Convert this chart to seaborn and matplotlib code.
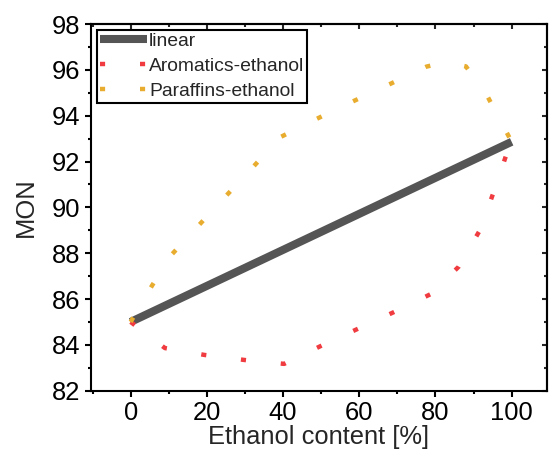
import matplotlib
matplotlib.use("Agg")
import matplotlib.pyplot as plt
from matplotlib.ticker import MultipleLocator
import seaborn as sns
import pandas as pd

# ---- data ----
linear_x = [0, 100]
linear_y = [85.0, 92.86]

arom_x = [0, 9.0, 19.4, 29.9, 40.3, 49.9, 59.5, 69.1, 78.7, 86.1, 91.9, 95.4, 98.8, 100]
arom_y = [85.0, 83.86, 83.56, 83.34, 83.17, 83.95, 84.69, 85.43, 86.21, 87.41, 89.07, 90.73, 92.39, 92.9]

par_x = [0, 5.67, 10.5, 17.74, 24.93, 32.18, 39.37, 48.82, 58.43, 68.06, 77.64, 83.0, 88.0, 93.7, 98.69, 100]
par_y = [85.0, 86.60, 87.89, 89.19, 90.48, 91.77, 93.07, 93.86, 94.63, 95.38, 96.14, 96.35, 96.15, 94.83, 93.27, 92.86]

x_ticks = [0, 20, 40, 60, 80, 100]
y_ticks = [82, 84, 86, 88, 90, 92, 94, 96, 98]

sns.set_style("ticks")
plt.rcParams['font.family'] = ['Liberation Sans', 'DejaVu Sans']

fig = plt.figure(figsize=(5.49, 4.55), dpi=100)
ax = fig.add_axes([91/549, 1-390.7/455, (546.7-91)/549, (390.7-24)/455])

df_lin = pd.DataFrame({'x': linear_x, 'y': linear_y})
df_ar = pd.DataFrame({'x': arom_x, 'y': arom_y})
df_pa = pd.DataFrame({'x': par_x, 'y': par_y})

sns.lineplot(data=df_lin, x='x', y='y', ax=ax, color='#555555', lw=5.8,
             estimator=None, label='linear', solid_capstyle='butt')
sns.lineplot(data=df_ar, x='x', y='y', ax=ax, color='#F03C40', lw=3.2,
             estimator=None, label='Aromatics-ethanol', linestyle=(0, (1.15, 7.85)))
sns.lineplot(data=df_pa, x='x', y='y', ax=ax, color='#E8AC2E', lw=3.2,
             estimator=None, label='Paraffins-ethanol', linestyle=(0, (1.15, 7.85)))

ax.set_xlim(-10.4, 109.2)
ax.set_ylim(82, 98)
ax.set_xticks(x_ticks)
ax.set_yticks(y_ticks)
ax.xaxis.set_minor_locator(MultipleLocator(10))
ax.yaxis.set_minor_locator(MultipleLocator(1))
ax.tick_params(which='major', direction='out', length=4.5, width=1.5, labelsize=18.4, pad=3,
               color='black', labelcolor='black')
ax.tick_params(which='minor', direction='out', length=2.5, width=1.5, color='black')
for s in ax.spines.values():
    s.set_linewidth(1.5)
    s.set_color('black')
    s.set_visible(True)

sec_x = ax.secondary_xaxis('top')
sec_x.set_xticks(x_ticks)
sec_x.xaxis.set_minor_locator(MultipleLocator(10))
sec_x.tick_params(which='major', direction='in', length=3.5, width=1.5, labeltop=False)
sec_x.tick_params(which='minor', direction='in', length=2.0, width=1.5)
sec_x.spines['top'].set_linewidth(1.5)
sec_y = ax.secondary_yaxis('right')
sec_y.set_yticks(y_ticks)
sec_y.yaxis.set_minor_locator(MultipleLocator(1))
sec_y.tick_params(which='major', direction='in', length=3.5, width=1.5, labelright=False)
sec_y.tick_params(which='minor', direction='in', length=2.0, width=1.5)
sec_y.spines['right'].set_linewidth(1.5)

ax.set_xlabel('Ethanol content [%]', fontsize=18.4, labelpad=0)
ax.set_ylabel('MON', fontsize=18.4, labelpad=10)

leg = ax.legend(loc='upper left', fontsize=13.9, frameon=True, fancybox=False,
                edgecolor='black', framealpha=1, handlelength=2.45, handletextpad=0.1,
                borderpad=0.15, labelspacing=0.38, borderaxespad=0.3)
leg.get_frame().set_linewidth(1.5)

fig.savefig('out.png', dpi=100)
